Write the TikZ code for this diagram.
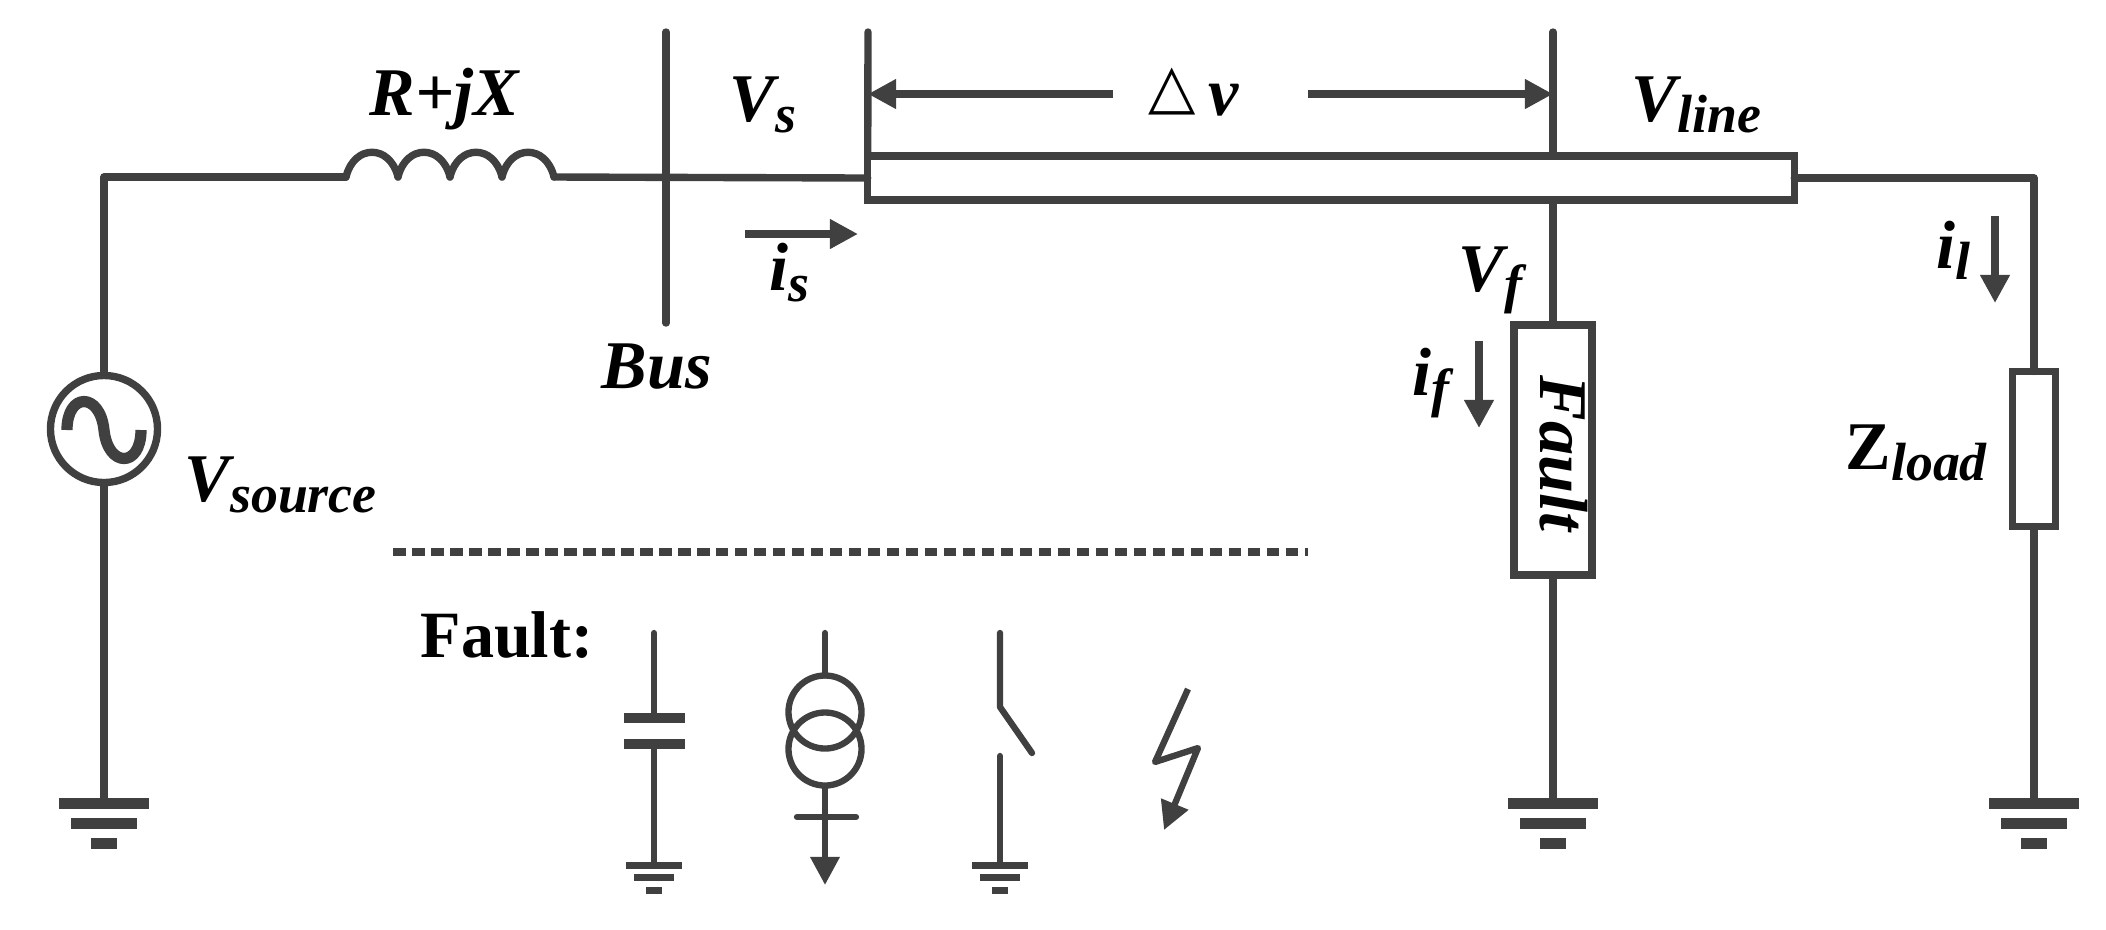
\documentclass[tikz,border=0pt]{standalone}
\usepackage{fontspec}
\setmainfont{Liberation Serif}
\newfontfamily\symfont{DejaVu Sans}
\usetikzlibrary{arrows.meta}
\definecolor{linegray}{HTML}{404040}
\newcommand{\labelfont}{\fontsize{19.4}{22}\selectfont\bfseries\itshape}
\newcommand{\lowsub}[1]{\raisebox{-3.4pt}{\fontsize{15.3}{16}\selectfont #1}}
\tikzset{
  >={Triangle[length=8pt,width=8pt]},
  wireline/.style={draw=linegray, line width=2.1pt, line cap=round, line join=round},
  thinline/.style={draw=linegray, line width=1.8pt, line cap=round, line join=round},
  box/.style={draw=linegray, line width=2.1pt, rectangle, inner sep=0pt, outer sep=0pt},
  ring/.style={draw=linegray, line width=1.8pt, circle, inner sep=0pt, outer sep=0pt, minimum size=2cm},
  plate/.style={fill=linegray, rectangle, inner sep=0pt, outer sep=0pt, minimum width=61*0.01cm, minimum height=0.1cm},
  lbl/.style={inner sep=0pt, anchor=base west, font=\labelfont, text=black},
  gnd/.pic={
    \coordinate (-top) at (0,0);
    \fill[linegray] (-45,0) rectangle (45,11);
    \fill[linegray] (-33,20) rectangle (33,31);
    \fill[linegray] (-13,40) rectangle (13,51);
  }}

\begin{document}
\begin{tikzpicture}[x=0.01cm, y=-0.01cm]
  \useasboundingbox (0,0) rectangle (2106,929);

  \node[ring, line width=2.1pt, minimum size=1.07cm] (src) at (104,429) {};
  \node[box, minimum width=9.26cm, minimum height=0.44cm] (tline) at (1331,178) {};
  \node[box, minimum width=0.78cm, minimum height=2.5cm] (fault) at (1553,450) {};
  \node[box, minimum width=0.43cm, minimum height=1.55cm] (zload) at (2034,449) {};

  \coordinate (ind_a) at (346,177);
  \coordinate (ind_b) at (554,177);
  \coordinate (bus_t) at (666,32);
  \coordinate (bus_b) at (666,323);
  \coordinate (vs_t)  at (868,32);
  \coordinate (vf_t)  at (1553,32);
  \coordinate (dv_l)  at (1113,94);
  \coordinate (dv_r)  at (1308,94);
  \coordinate (is_a)  at (745,234);
  \coordinate (is_b)  at (858,234);
  \coordinate (if_a)  at (1479,341);
  \coordinate (if_b)  at (1479,428);
  \coordinate (il_a)  at (1995,216);
  \coordinate (il_b)  at (1995,303);
  \coordinate (sep_a) at (393,552);
  \coordinate (sep_b) at (1308,552);

  \pic (gnd_s) at (104,798) {gnd};
  \pic (gnd_f) at (1553,798) {gnd};
  \pic (gnd_l) at (2034,798) {gnd};

  \draw[wireline] (src.north) |- (ind_a);
  \foreach \k in {0,1,2,3}
    \draw[wireline] (346+52*\k,177) .. controls +(8,-33) and +(-8,-33) .. +(52,0);
  \draw[wireline] (ind_b) -- (tline.west);
  \draw[wireline] (bus_t) -- (bus_b);
  \draw[wireline] (vs_t) -- (tline.north west);
  \draw[wireline] (vf_t) -- (vf_t |- tline.north);
  \draw[wireline] (fault.north |- tline.south) -- (fault.north);
  \draw[wireline] (tline.east) -| (zload.north);
  \draw[wireline] (src.south) -- (gnd_s-top);
  \draw[wireline] (fault.south) -- (gnd_f-top);
  \draw[wireline] (zload.south) -- (gnd_l-top);
  \draw[wireline, line width=3.2pt, line cap=butt] (67,430) .. controls (67,392) and (100,392) .. (104,430)
    .. controls (108,468) and (141,468) .. (141,430);

  \path[->, every edge/.style={wireline, line cap=butt}]
    (dv_l) edge (dv_l -| vs_t)
    (dv_r) edge (dv_r -| vf_t)
    (is_a) edge (is_b)
    (if_a) edge (if_b)
    (il_a) edge (il_b);
  \draw[wireline, line cap=butt, dash pattern=on 3.6pt off 1.8pt] (sep_a) -- (sep_b);

  \node[lbl] (rjx)  at (369,115)  {R+jX};
  \node[lbl] (vs)   at (729,121)  {V\lowsub{s}};
  \node[lbl] (is)   at (769,290)  {i\lowsub{s}};
  \node[lbl] (bus)  at (601,388)  {Bus};
  \node[lbl] (vsrc) at (184,501)  {V\lowsub{source}};
  \node[lbl] (dv)   at (1148,115) {\raisebox{2.2pt}{\fontsize{17.5}{20}\symfont\mdseries\upshape △}\hspace{3.6pt}v};
  \node[lbl] (vl)   at (1631,121) {V\lowsub{line}};
  \node[lbl] (vf)   at (1458,291) {V\lowsub{f}};
  \node[lbl] (if)   at (1412,395) {i\lowsub{f}};
  \node[lbl] (il)   at (1936,268) {i\lowsub{l}};
  \node[lbl] (zl)   at (1845,469) {{\upshape Z}\lowsub{load}};
  \node[lbl, rotate=-90] (ftxt) at (1540,375) {Fault};
  \node[lbl, font=\fontsize{18.8}{22}\selectfont\bfseries] (ftitle) at (420,657) {Fault:};

  \coordinate (cap_in) at (654,633);
  \node[plate] (cap_t) at (654,718) {};
  \node[plate] (cap_b) at (654,744) {};
  \pic[scale=0.62] (gnd_c) at (654,862) {gnd};
  \draw[thinline] (cap_in) -- (cap_t.north);
  \draw[thinline] (cap_b.south) -- (gnd_c-top);

  \coordinate (ct_in)  at (825,633);
  \coordinate (ct_out) at (825,885);
  \coordinate (ct_bl)  at (797,817);
  \coordinate (ct_br)  at (856,817);
  \node[ring, minimum size=0.73cm] (ct_a) at (825,712) {};
  \node[ring, minimum size=0.73cm] (ct_b) at (825,749) {};
  \draw[thinline] (ct_in) -- (ct_a.north);
  \draw[thinline, line cap=butt, ->] (ct_b.south) -- (ct_out);
  \draw[thinline] (ct_bl) -- (ct_br);

  \coordinate (sw_in)  at (1000,633);
  \coordinate (sw_k)   at (1000,707);
  \coordinate (sw_tip) at (1032,753);
  \coordinate (sw_low) at (1000,756);
  \pic[scale=0.62] (gnd_w) at (1000,862) {gnd};
  \draw[thinline] (sw_in) -- (sw_k) -- (sw_tip);
  \draw[thinline] (sw_low) -- (gnd_w-top);

  \coordinate (bolt_a) at (1188,689);
  \coordinate (bolt_b) at (1155,762);
  \coordinate (bolt_c) at (1198,748);
  \coordinate (bolt_d) at (1164,830);
  \draw[thinline, line cap=butt, ->] (bolt_a) -- (bolt_b) -- (bolt_c) -- (bolt_d);
\end{tikzpicture}
\end{document}
